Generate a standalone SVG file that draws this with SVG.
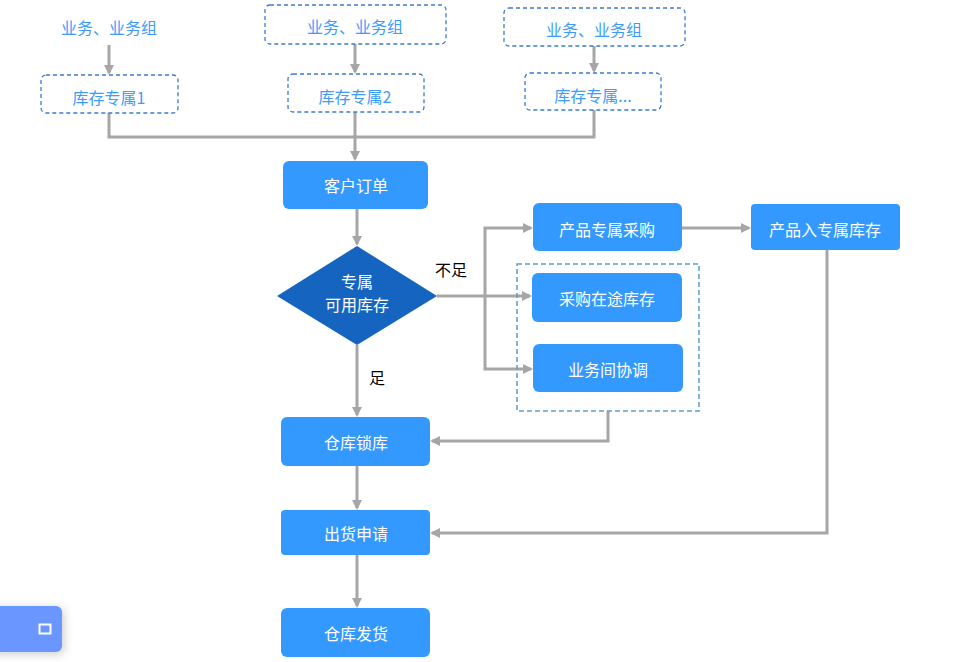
<svg xmlns="http://www.w3.org/2000/svg" width="955" height="662" viewBox="0 0 955 662">
<defs>
<marker id="ah" markerWidth="10" markerHeight="10" refX="8" refY="5" orient="auto" markerUnits="userSpaceOnUse"><path d="M0,0 L10,5 L0,10 z" fill="#a6a6a6"/></marker>
<filter id="sh" x="-50%" y="-50%" width="200%" height="200%"><feDropShadow dx="2" dy="2" stdDeviation="5" flood-color="#000" flood-opacity="0.2"/></filter>
</defs>
<style>
text{font-family:"Noto Sans CJK SC","Liberation Sans",sans-serif;font-size:16px;text-anchor:middle;dominant-baseline:central}
.b{fill:#3399ff;}
.bt{fill:#fff}
.d{fill:#fff;stroke:#3a7bd5;stroke-width:1.3;stroke-dasharray:4,3}
.dt{fill:#3b9bff}
.c{fill:none;stroke:#a6a6a6;stroke-width:3}
.a{marker-end:url(#ah)}
</style>
<rect width="955" height="662" fill="#fff"/>
<g id="connectors">
<path class="c a" d="M109,45 V73"/>
<path class="c a" d="M355,44 V72"/>
<path class="c a" d="M594,46 V71"/>
<path class="c" d="M109,113 V137 H594 V110"/>
<path class="c a" d="M355,112 V159"/>
<path class="c a" d="M357,209 V244"/>
<path class="c a" d="M437,296 H530"/>
<path class="c a" d="M485,296 V228 H531"/>
<path class="c a" d="M485,296 V369 H531"/>
<path class="c a" d="M682,228 H749"/>
<path class="c a" d="M357,345 V415"/>
<path class="c a" d="M608,411 V441 H432"/>
<path class="c a" d="M827,250 V533 H432"/>
<path class="c a" d="M357,466 V508"/>
<path class="c a" d="M357,555 V606"/>
<text x="451" y="269" style="fill:#000">不足</text>
<text x="377" y="377" style="fill:#000">足</text>
</g>
<g id="src1"><text class="dt" x="109" y="27">业务、业务组</text></g>
<g id="src2"><rect class="d" x="265" y="5" width="181" height="39" rx="5"/><text class="dt" x="355" y="26">业务、业务组</text></g>
<g id="src3"><rect class="d" x="504" y="8" width="181" height="38" rx="5"/><text class="dt" x="594" y="29">业务、业务组</text></g>
<g id="inv1"><rect class="d" x="41" y="75" width="137" height="38" rx="5"/><text class="dt" x="109" y="97">库存专属1</text></g>
<g id="inv2"><rect class="d" x="288" y="74" width="136" height="38" rx="5"/><text class="dt" x="355" y="96">库存专属2</text></g>
<g id="inv3"><rect class="d" x="525" y="73" width="136" height="37" rx="5"/><text class="dt" x="593" y="95">库存专属...</text></g>
<g id="order"><rect class="b" x="283" y="161" width="145" height="48" rx="6"/><text class="bt" x="356" y="185">客户订单</text></g>
<g id="decision"><path d="M357,246 L437,296 L357,345 L277,296 z" fill="#1565c0"/><text class="bt" x="357" y="281">专属</text><text class="bt" x="357" y="304">可用库存</text></g>
<g id="group"><rect x="517" y="264" width="182" height="147" fill="none" stroke="#5b9bd5" stroke-width="1.5" stroke-dasharray="5,3"/></g>
<g id="buy"><rect class="b" x="533" y="203" width="149" height="48" rx="6"/><text class="bt" x="607" y="229">产品专属采购</text></g>
<g id="instock"><rect class="b" x="751" y="204" width="149" height="46" rx="4"/><text class="bt" x="825" y="229">产品入专属库存</text></g>
<g id="transit"><rect class="b" x="532" y="273" width="150" height="49" rx="6"/><text class="bt" x="607" y="298">采购在途库存</text></g>
<g id="coord"><rect class="b" x="533" y="344" width="150" height="48" rx="6"/><text class="bt" x="608" y="369">业务间协调</text></g>
<g id="lock"><rect class="b" x="281" y="417" width="149" height="49" rx="6"/><text class="bt" x="356" y="442">仓库锁库</text></g>
<g id="apply"><rect class="b" x="281" y="510" width="149" height="45" rx="4"/><text class="bt" x="356" y="533">出货申请</text></g>
<g id="ship"><rect class="b" x="281" y="608" width="149" height="49" rx="6"/><text class="bt" x="356" y="633">仓库发货</text></g>
<g id="widget"><rect x="-10" y="606" width="72" height="46" rx="6" fill="#6a96ff" filter="url(#sh)"/><rect x="39.5" y="624.5" width="11" height="9" fill="none" stroke="#fff" stroke-width="2"/></g>
</svg>
